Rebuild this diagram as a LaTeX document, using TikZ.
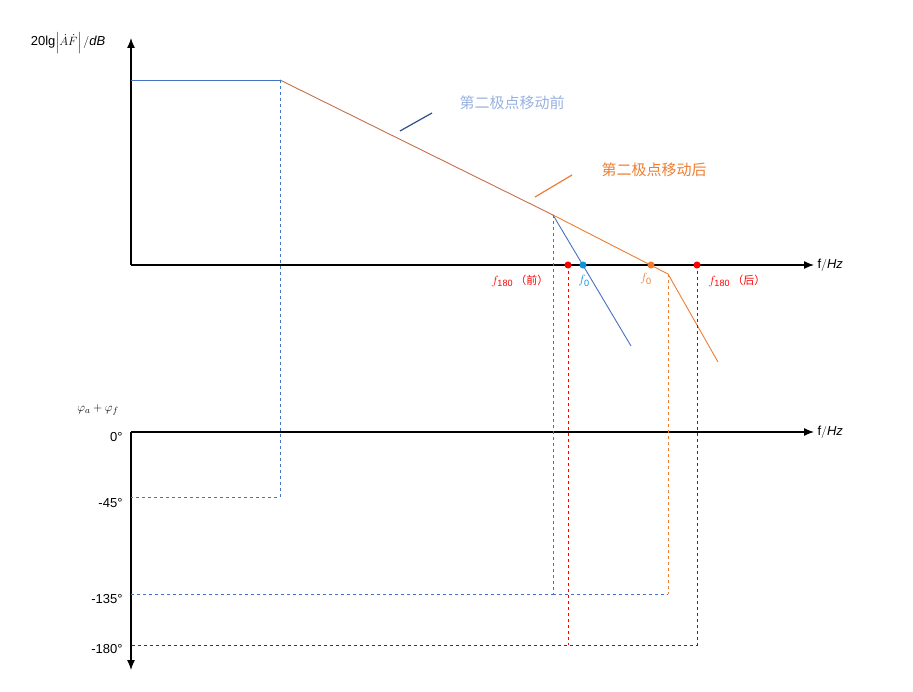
\documentclass[tikz,border=0pt]{standalone}
\usepackage{amsmath}
\usepackage{fontspec}
\setmainfont{Liberation Sans}
\newfontfamily\cjk{Noto Sans CJK SC}
\usetikzlibrary{arrows.meta}
\begin{document}
\begin{tikzpicture}[x=1pt,y=-1pt,
  every node/.style={font=\fontsize{13}{15}\selectfont},
  ax/.style={line width=1.3pt,-{Latex[length=10pt,width=8pt]}},
  dsh/.style={dashed,line width=0.8pt},
  dot/.style={circle,fill,inner sep=2.5pt}]
\useasboundingbox (0,0) rectangle (913,692);
\definecolor{myblue}{RGB}{68,114,196}
\definecolor{myor}{RGB}{237,125,49}
\definecolor{mybr}{RGB}{200,110,70}
\definecolor{dred}{RGB}{120,30,40}
% axes
\coordinate (O1) at (131,265); \coordinate (O2) at (131,432);
\draw[ax] (O1) -- (131,38) coordinate (yt);
\draw[ax] (O1) -- (814,265) coordinate (xr1);
\draw[ax] (O2) -- (814,432) coordinate (xr2);
\draw[line width=1.3pt] (O2) -- (131,640);
\draw[ax] (131,640) -- (131,670);
\node[anchor=west] at (xr1) {f$/\mathit{Hz}$};
\node[anchor=west] at (xr2) {f$/\mathit{Hz}$};
\node at (68,43) {20lg$\left|\dot{A}\dot{F}\right|/\mathit{dB}$};
\node at (98,410) {$\varphi_a+\varphi_f$};
\node[anchor=east] at (126,437) {0°};
\node[anchor=east] at (126,503) {-45°};
\node[anchor=east] at (126,599) {-135°};
\node[anchor=east] at (126,649) {-180°};
% coordinates
\coordinate (A) at (131,80); \coordinate (B) at (280,80);
\coordinate (C) at (553,215); \coordinate (D) at (631,346);
\coordinate (E) at (668,274); \coordinate (F) at (718,362);
\draw[myblue,line width=0.9pt] (A) -- (B);
\draw[mybr,line width=0.9pt] (B) -- (C);
\draw[myblue,line width=0.9pt] (C) -- (D);
\draw[myor,line width=0.9pt] (C) -- (E) -- (F);
% dashed
\draw[myblue,dsh] (B) -- (280,497) -- (131,497);
\draw[myblue,dsh] (C) -- (553,594) -- (131,594);
\draw[myblue,dsh] (553,594) -- (668,594);
\draw[myor,dsh] (E) -- (668,594);
\draw[red,dsh] (568,265) -- (568,645);
\draw[dred,dsh] (697,265) -- (697,645) -- (131,645);
% dots
\node[dot,red] (p1) at (568,265) {};
\node[dot,cyan!80!blue] (p2) at (583,265) {};
\node[dot,myor] (p3) at (651,265) {};
\node[dot,red] (p4) at (697,265) {};
\node[red] at (520,281) {$f_{\text{180}}$\,{\cjk\fontsize{11}{13}\selectfont （前）}};
\node[cyan!80!blue] at (584,281) {$f_{\text{0}}$};
\node[myor] at (646,279) {$f_{\text{0}}$};
\node[red] at (737,281) {$f_{\text{180}}$\,{\cjk\fontsize{11}{13}\selectfont （后）}};
% legends
\draw[myblue!70!black,line width=1.2pt] (400,131) -- (432,113);
\node[color=myblue!55!white,font=\cjk\fontsize{15}{17}\selectfont] at (512,103) {第二极点移动前};
\draw[myor,line width=1.2pt] (535,197) -- (572,175);
\node[myor,font=\cjk\fontsize{15}{17}\selectfont] at (654,170) {第二极点移动后};
\end{tikzpicture}
\end{document}
